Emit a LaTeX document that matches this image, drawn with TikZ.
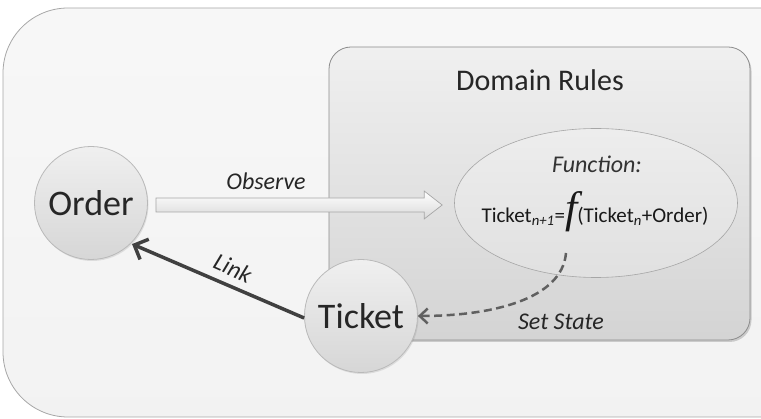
\documentclass[tikz,border=0pt]{standalone}
\usepackage{fontspec}
\setmainfont{Carlito}
\newfontfamily\funcfont{Liberation Serif}
\usetikzlibrary{shapes.geometric,arrows.meta,calc,shadows}

\definecolor{outerfill}{HTML}{F3F3F3}
\definecolor{outerline}{HTML}{A6A6A6}
\definecolor{panelline}{HTML}{8C8C8C}
\definecolor{ballline}{HTML}{B9B9B9}
\definecolor{linkgray}{HTML}{404040}
\definecolor{stategray}{HTML}{606060}

\tikzset{
  panel/.style={draw=panelline, line width=0.8pt, rounded corners=22pt,
    top color=white!94!black, bottom color=white!83!black,
    drop shadow={shadow xshift=1.5pt, shadow yshift=-2pt, opacity=0.35}},
  ballnode/.style={circle, draw=ballline, line width=0.8pt, minimum size=113pt,
    inner sep=0pt, top color=white!94!black, bottom color=white!84!black,
    font=\fontsize{36}{36}\selectfont, text=black!85,
    drop shadow={shadow xshift=1pt, shadow yshift=-1.5pt, opacity=0.2}},
  funcnode/.style={ellipse, draw=outerline, line width=0.6pt,
    minimum width=283pt, minimum height=149pt, inner sep=0pt,
    top color=white!93!black, bottom color=white!88!black},
  edgelabel/.style={font=\fontsize{24}{24}\selectfont\itshape, text=black!85,
    inner sep=1pt},
  blockarrow/.style={draw=outerline, line width=0.7pt,
    top color=white, bottom color=white!85!black},
  linkarrow/.style={draw=linkgray, line width=3.5pt,
    -{Straight Barb[length=11pt, width=22pt, line width=3.5pt]}},
  statearrow/.style={draw=stategray, line width=2.5pt,
    dash pattern=on 8pt off 4.5pt,
    -{Straight Barb[length=8pt, width=15pt, line width=2.5pt]}}
}

\begin{document}
\begin{tikzpicture}[x=1pt,y=-1pt]
  \useasboundingbox (0,0) rectangle (761,419);
  \begin{scope}
    \clip (0,0) rectangle (761,419);
    % outer area
    \path[draw=outerline, line width=0.8pt, rounded corners=65pt,
      top color=white!97!black, bottom color=white!95!black]
      (3,8) rectangle (830,417);
    % domain rules panel
    \path[panel] (329,47) rectangle (750,340);
  \end{scope}

  \node[font=\fontsize{30}{30}\selectfont, text=black!85] (title) at (540,80) {Domain Rules};

  % function ellipse
  \node[funcnode] (func) at (596,203) {};
  \node[font=\fontsize{24}{24}\selectfont\itshape, text=black!80] (fname) at (597,164) {Function:};
  \node[font=\fontsize{21}{21}\selectfont, text=black!90, inner sep=0pt] (formula) at (595,212)
    {Ticket\textsubscript{\itshape n+1}={\funcfont\fontsize{44}{44}\selectfont\itshape f}(Ticket\textsubscript{\itshape n}+Order)};

  % entities
  \node[ballnode] (order) at (91,203) {Order};
  \node[ballnode] (ticket) at (361,316) {Ticket};

  % observe: hollow block arrow from order to the function
  \coordinate (obsA) at ($(order.east)+(8,-5)$);
  \path[blockarrow]
    (obsA) -- ($(func.west)+(-30,-5)$) -- ($(func.west)+(-30,-12)$)
    -- ($(func.west)+(-12,2)$) -- ($(func.west)+(-30,16)$)
    -- ($(func.west)+(-30,9)$) -- ($(order.east)+(8,9)$) -- cycle;
  \node[edgelabel] (obslabel) at (266,181) {Observe};

  % link: ticket refers back to order
  \draw[linkarrow] (ticket.west) ++(0,2) -- ($(order.center)!1.02!(order.south east)$);
  \node[edgelabel, rotate=-24] (linklabel) at (233,268) {Link};

  % set state: the function updates the ticket
  \coordinate (stateA) at (566,253);
  \draw[statearrow] (stateA) .. controls (562,300) and (490,316) .. (ticket.east);
  \node[edgelabel] (statelabel) at (561,322) {Set State};
\end{tikzpicture}
\end{document}
